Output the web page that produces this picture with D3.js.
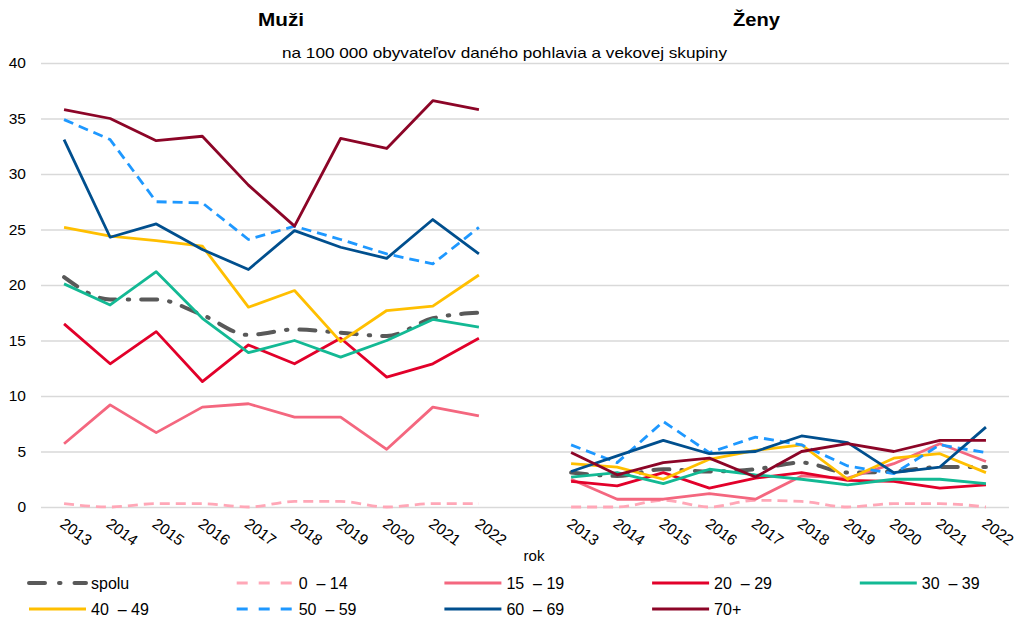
<!DOCTYPE html>
<html>
<head>
<meta charset="utf-8">
<script src="https://cdn.jsdelivr.net/npm/d3@7"></script>
<style>
  body { margin: 0; background: #fff; }
  svg { font-family: "Liberation Sans", Arial, sans-serif; }
  .legend text { white-space: pre; }
</style>
</head>
<body>
<div id="chart"></div>
<script>
// years per panel
const years = ["2013","2014","2015","2016","2017","2018","2019","2020","2021","2022"];
const yTicks = [0, 5, 10, 15, 20, 25, 30, 35, 40];

// men (Muži)
const menSpolu = [20.7, 18.7, 18.7, 17.3, 15.5, 16.0, 15.7, 15.4, 17.0, 17.5];
const men0_14  = [0.3, 0.0, 0.3, 0.3, 0.0, 0.5, 0.5, 0.0, 0.3, 0.3];
const men15_19 = [5.7, 9.2, 6.7, 9.0, 9.3, 8.1, 8.1, 5.2, 9.0, 8.2];
const men20_29 = [16.5, 12.9, 15.8, 11.3, 14.6, 12.9, 15.2, 11.7, 12.9, 15.2];
const men30_39 = [20.1, 18.2, 21.2, 17.0, 13.9, 15.0, 13.5, 15.0, 16.9, 16.2];
const men40_49 = [25.2, 24.4, 24.0, 23.5, 18.0, 19.5, 14.9, 17.7, 18.1, 20.9];
const men50_59 = [34.9, 33.1, 27.5, 27.4, 24.1, 25.3, 24.1, 22.8, 21.9, 25.2];
const men60_69 = [33.1, 24.3, 25.5, 23.2, 21.4, 24.9, 23.4, 22.4, 25.9, 22.8];
const men70    = [35.8, 35.0, 33.0, 33.4, 29.0, 25.3, 33.2, 32.3, 36.6, 35.8];

// women (Ženy)
const womSpolu = [3.1, 2.8, 3.4, 3.2, 3.4, 4.0, 3.1, 3.2, 3.6, 3.6];
const wom0_14  = [0.0, 0.0, 0.6, 0.0, 0.6, 0.5, 0.0, 0.3, 0.3, 0.0];
const wom15_19 = [2.5, 0.7, 0.7, 1.2, 0.7, 2.8, 2.6, 3.9, 5.7, 4.1];
const wom20_29 = [2.3, 1.9, 3.1, 1.7, 2.6, 3.1, 2.4, 2.3, 1.7, 2.0];
const wom30_39 = [2.7, 3.1, 2.1, 3.4, 2.9, 2.5, 2.0, 2.5, 2.5, 2.1];
const wom40_49 = [3.9, 3.6, 2.5, 4.3, 5.1, 5.6, 2.5, 4.4, 4.8, 3.1];
const wom50_59 = [5.6, 4.0, 7.7, 4.9, 6.3, 5.6, 3.7, 3.0, 5.6, 4.9];
const wom60_69 = [3.2, 4.6, 6.0, 4.8, 5.0, 6.4, 5.8, 3.1, 3.6, 7.2];
const wom70    = [4.9, 2.9, 4.0, 4.4, 2.7, 5.0, 5.7, 5.0, 6.0, 6.0];

const legendLabels = ["spolu", "0  \u2013 14", "15  \u2013 19", "20  \u2013 29", "30  \u2013 39",
                      "40  \u2013 49", "50  \u2013 59", "60  \u2013 69", "70+"];
const menSeries = [menSpolu, men0_14, men15_19, men20_29, men30_39, men40_49, men50_59, men60_69, men70];
const womSeries = [womSpolu, wom0_14, wom15_19, wom20_29, wom30_39, wom40_49, wom50_59, wom60_69, wom70];

const colors = ["#595959", "#ffa7b7", "#f4677f", "#e2002a", "#13b994", "#ffbf00", "#1e98ff", "#004f8e", "#8c0527"];
const dashes = ["16,12,1.5,12", "10,6", null, null, null, null, "10,6", null, null];
const widths = [4, 2.8, 2.8, 2.8, 2.8, 2.8, 2.8, 2.8, 2.8];
const smooth = [true, true, false, false, false, false, false, false, false];

const width = 1026, height = 625;
const margin = {left: 41, right: 17, top: 63, bottom: 118};

const svg = d3.select("#chart").append("svg")
    .attr("width", width).attr("height", height);

// one category axis: men years, an empty slot, women years
const cats = [...years.map(y => "M" + y), "gap", ...years.map(y => "Z" + y)];
const x = d3.scaleBand().domain(cats).range([margin.left, width - margin.right]);
const cx = c => x(c) + x.bandwidth() / 2;
const y = d3.scaleLinear().domain([0, 40]).range([height - margin.bottom, margin.top]);

// gridlines
svg.append("g")
    .attr("transform", `translate(${margin.left},0)`)
    .call(d3.axisLeft(y).tickValues(yTicks).tickSize(-(width - margin.left - margin.right)).tickFormat(""))
    .call(g => g.select(".domain").remove())
    .call(g => g.selectAll("line").attr("stroke", "#d9d9d9").attr("stroke-width", 1.6));

// y labels
svg.append("g")
    .attr("transform", `translate(${margin.left - 15},0)`)
    .call(d3.axisLeft(y).tickValues(yTicks).tickSize(0).tickPadding(0))
    .call(g => g.select(".domain").remove())
    .call(g => g.selectAll("text").attr("font-size", 15.5).attr("fill", "#000")
        .attr("font-family", "Liberation Sans, Arial, sans-serif"));

// x labels
svg.append("g")
    .attr("transform", `translate(0,${height - margin.bottom})`)
    .call(d3.axisBottom(x).tickValues(cats.filter(c => c !== "gap")).tickSize(0).tickFormat(c => c.slice(1)))
    .call(g => g.select(".domain").remove())
    .call(g => g.selectAll("text")
        .attr("font-size", 15.5).attr("fill", "#000")
        .attr("font-family", "Liberation Sans, Arial, sans-serif")
        .attr("text-anchor", "start")
        .attr("dy", 0).attr("y", 0)
        .attr("transform", "translate(-5,19) rotate(36)"));

svg.append("text").attr("x", 534).attr("y", 561).attr("text-anchor", "middle")
    .attr("font-size", 15).text("rok");

// titles
svg.append("text").attr("x", 258).attr("y", 26)
    .attr("font-size", 19).attr("font-weight", "bold")
    .attr("textLength", 46).attr("lengthAdjust", "spacingAndGlyphs").text("Muži");
svg.append("text").attr("x", 733).attr("y", 26)
    .attr("font-size", 19).attr("font-weight", "bold")
    .attr("textLength", 47).attr("lengthAdjust", "spacingAndGlyphs").text("Ženy");
svg.append("text").attr("x", 282).attr("y", 58)
    .attr("font-size", 14.5)
    .attr("textLength", 445).attr("lengthAdjust", "spacingAndGlyphs")
    .text("na 100 000 obyvateľov daného pohlavia a vekovej skupiny");

// lines
const drawPanel = (prefix, series) => {
    series.forEach((vals, i) => {
        const line = d3.line()
            .x((d, j) => cx(prefix + years[j]))
            .y(d => y(d))
            .curve(smooth[i] ? d3.curveMonotoneX : d3.curveLinear);
        svg.append("path")
            .datum(vals)
            .attr("d", line)
            .attr("fill", "none")
            .attr("stroke", colors[i])
            .attr("stroke-width", widths[i])
            .attr("stroke-dasharray", dashes[i])
            .attr("stroke-linecap", i === 0 ? "round" : "butt")
            .attr("stroke-linejoin", "round");
    });
};
drawPanel("M", menSeries);
drawPanel("Z", womSeries);

// legend
const legend = svg.append("g").attr("class", "legend");
legendLabels.forEach((name, i) => {
    const col = i % 5, row = Math.floor(i / 5);
    const lx = 29 + col * 207.7, ly = 583 + row * 26;
    legend.append("line")
        .attr("x1", lx).attr("x2", lx + 57).attr("y1", ly).attr("y2", ly)
        .attr("stroke", colors[i])
        .attr("stroke-width", i === 0 ? 4 : 3.2)
        .attr("stroke-dasharray", i === 0 ? "16,14,1.5,14" : (dashes[i] ? "11,11" : null))
        .attr("stroke-linecap", i === 0 ? "round" : "butt");
    legend.append("text")
        .attr("x", lx + 62).attr("y", ly + 5.5)
        .attr("font-size", 16)
        .text(name);
});
</script>
</body>
</html>
